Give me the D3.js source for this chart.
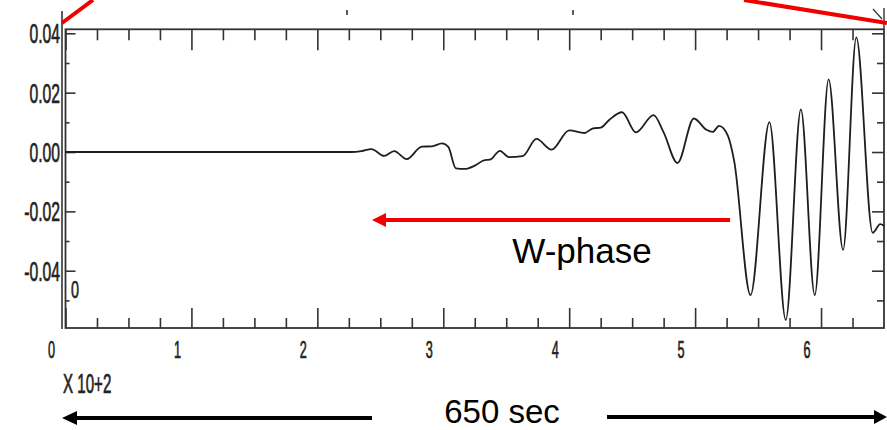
<!DOCTYPE html>
<html>
<head>
<meta charset="utf-8">
<script src="https://cdn.jsdelivr.net/npm/d3@7"></script>
<style>
  body { margin: 0; background: #fff; }
  svg { display: block; }
</style>
</head>
<body>
<div id="chart"></div>
<script>
// seismogram trace, time in seconds, amplitude
var timeSec = [0, 227, 235, 243, 253, 261, 271, 283, 291, 299, 304, 310, 317, 325, 333, 337, 345, 352, 363,
  374, 386, 400, 412, 419, 425, 432, 442, 453, 467, 475, 486, 499, 509, 514, 519, 526, 531,
  544, 559, 572, 584, 595, 606, 617.5, 628, 641, 647, 650];
var amplitude = [0, 0, 0.0003, 0.0010, -0.0013, 0.0003, -0.0024, 0.0018, 0.0019, 0.0029, 0.0017, -0.0055, -0.0057,
  -0.0046, -0.0027, -0.0026, 0.0004, -0.0017, -0.0014, 0.0044, 0.0008, 0.0073, 0.0064, 0.0080, 0.0082, 0.0109,
  0.0134, 0.0066, 0.0124, 0.0066, -0.0037, 0.0113, 0.0075, 0.0068, 0.0088, 0.0055, -0.0030,
  -0.0482, 0.0101, -0.0566, 0.0144, -0.0482, 0.0245, -0.0330, 0.0386, -0.0272, -0.0243, -0.0248];

var xMajor = [0, 100, 200, 300, 400, 500, 600];
var xLabels = ["0", "1", "2", "3", "4", "5", "6"];
var yMajor = [0.04, 0.02, 0, -0.02, -0.04];
var yLabels = ["0.04", "0.02", "0.00", "-0.02", "-0.04"];

var W = 887, H = 430;
var svg = d3.select("#chart").append("svg").attr("width", W).attr("height", H);

var x = d3.scaleLinear().domain([0, 650]).range([65.5, 884]);
var y = d3.scaleLinear().domain([-0.0593, 0.04135]).range([328, 29.3]);

var xMinor = d3.range(0, 650, 25).filter(function (d) { return d % 100 !== 0; });
var yMinor = d3.range(-5, 5).map(function (d) { return d / 100; }).filter(function (d) { return Math.round(d * 100) % 2 !== 0; });

var ink = "#333";

function styleAxis(g) {
  g.select(".domain").remove();
  g.selectAll("line").attr("stroke", ink).attr("stroke-width", 1.6);
  g.selectAll("text").remove();
}

// bottom axis, ticks pointing up
svg.append("g").attr("transform", "translate(0,328)")
  .call(d3.axisBottom(x).tickValues(xMajor).tickSize(-20)).call(styleAxis);
svg.append("g").attr("transform", "translate(0,328)")
  .call(d3.axisBottom(x).tickValues(xMinor).tickSize(-10)).call(styleAxis);
// top axis, ticks pointing down
svg.append("g").attr("transform", "translate(0,29.3)")
  .call(d3.axisTop(x).tickValues(xMajor).tickSize(-21)).call(styleAxis);
svg.append("g").attr("transform", "translate(0,29.3)")
  .call(d3.axisTop(x).tickValues(xMinor).tickSize(-11)).call(styleAxis);
// left axis
svg.append("g").attr("transform", "translate(65.5,0)")
  .call(d3.axisLeft(y).tickValues(yMajor).tickSize(-10)).call(styleAxis);
svg.append("g").attr("transform", "translate(65.5,0)")
  .call(d3.axisLeft(y).tickValues(yMinor).tickSize(-4)).call(styleAxis);
// right axis
svg.append("g").attr("transform", "translate(884,0)")
  .call(d3.axisRight(y).tickValues(yMajor).tickSize(-12)).call(styleAxis);
svg.append("g").attr("transform", "translate(884,0)")
  .call(d3.axisRight(y).tickValues(yMinor).tickSize(-7)).call(styleAxis);

// frame
svg.append("rect")
  .attr("x", x(0)).attr("y", y.range()[1])
  .attr("width", x(650) - x(0)).attr("height", y.range()[0] - y.range()[1])
  .attr("fill", "none").attr("stroke", ink).attr("stroke-width", 1.8);
svg.append("line").attr("x1", 62).attr("x2", 62).attr("y1", 11).attr("y2", 329)
  .attr("stroke", ink).attr("stroke-width", 1.6);
svg.append("line").attr("x1", 884).attr("x2", 884).attr("y1", 8).attr("y2", 29)
  .attr("stroke", ink).attr("stroke-width", 1.4);
svg.append("line").attr("x1", 873).attr("x2", 882).attr("y1", 9).attr("y2", 19)
  .attr("stroke", ink).attr("stroke-width", 1.2);
[347, 573].forEach(function (px) {
  svg.append("line").attr("x1", px).attr("x2", px).attr("y1", 10).attr("y2", 15)
    .attr("stroke", ink).attr("stroke-width", 1.6);
});

// condensed plot labels
function narrowText(px, py, str, anchor, size, sx) {
  svg.append("text")
    .attr("transform", "translate(" + px + "," + py + ") scale(" + sx + ",1)")
    .attr("text-anchor", anchor)
    .attr("font-family", "Liberation Sans, Arial, sans-serif")
    .attr("font-size", size)
    .attr("fill", "#222")
    .attr("stroke", "#222").attr("stroke-width", 0.7)
    .text(str);
}

yMajor.forEach(function (d, i) {
  narrowText(60, y(d) + 10, yLabels[i], "end", 28, 0.56);
});
xMajor.forEach(function (d, i) {
  narrowText(x(d) - 14, 358, xLabels[i], "middle", 23, 0.55);
});
narrowText(63, 393, "X  10+2", "start", 27, 0.56);
narrowText(75, 298, "0", "middle", 24, 0.6);

// trace
var pts = timeSec.map(function (t, i) { return [t, amplitude[i]]; });
var line = d3.line()
  .x(function (d) { return x(d[0]); })
  .y(function (d) { return y(d[1]); })
  .curve(d3.curveMonotoneX);
svg.append("path").datum(pts)
  .attr("d", line)
  .attr("fill", "none")
  .attr("stroke", "#1e1e1e")
  .attr("stroke-width", 1.8)
  .attr("stroke-linejoin", "round");

// annotations
var red = "#f20000";
svg.append("line").attr("x1", 62).attr("y1", 23).attr("x2", 93).attr("y2", 0)
  .attr("stroke", red).attr("stroke-width", 4);
svg.append("line").attr("x1", 744).attr("y1", 0).attr("x2", 887).attr("y2", 23)
  .attr("stroke", red).attr("stroke-width", 4);

function arrow(x1, x2, py, color, width, headLen, headHalf) {
  var dir = x2 > x1 ? 1 : -1;
  svg.append("line").attr("x1", x1).attr("x2", x2 - dir * headLen + dir * 1).attr("y1", py).attr("y2", py)
    .attr("stroke", color).attr("stroke-width", width);
  svg.append("path")
    .attr("d", "M" + x2 + "," + py + "L" + (x2 - dir * headLen) + "," + (py - headHalf) +
      "L" + (x2 - dir * headLen) + "," + (py + headHalf) + "Z")
    .attr("fill", color);
}

arrow(730, 372, 220, red, 4, 14, 7);
arrow(372, 62, 418, "#000", 4, 15, 7);
arrow(607, 887, 417, "#000", 4, 13, 7);

svg.append("text").attr("x", 582).attr("y", 263).attr("text-anchor", "middle")
  .attr("font-family", "Liberation Sans, Arial, sans-serif").attr("font-size", 35)
  .attr("fill", "#000").text("W-phase");
svg.append("text").attr("x", 502).attr("y", 423).attr("text-anchor", "middle")
  .attr("font-family", "Liberation Sans, Arial, sans-serif").attr("font-size", 33)
  .attr("fill", "#000").text("650 sec");
</script>
</body>
</html>
